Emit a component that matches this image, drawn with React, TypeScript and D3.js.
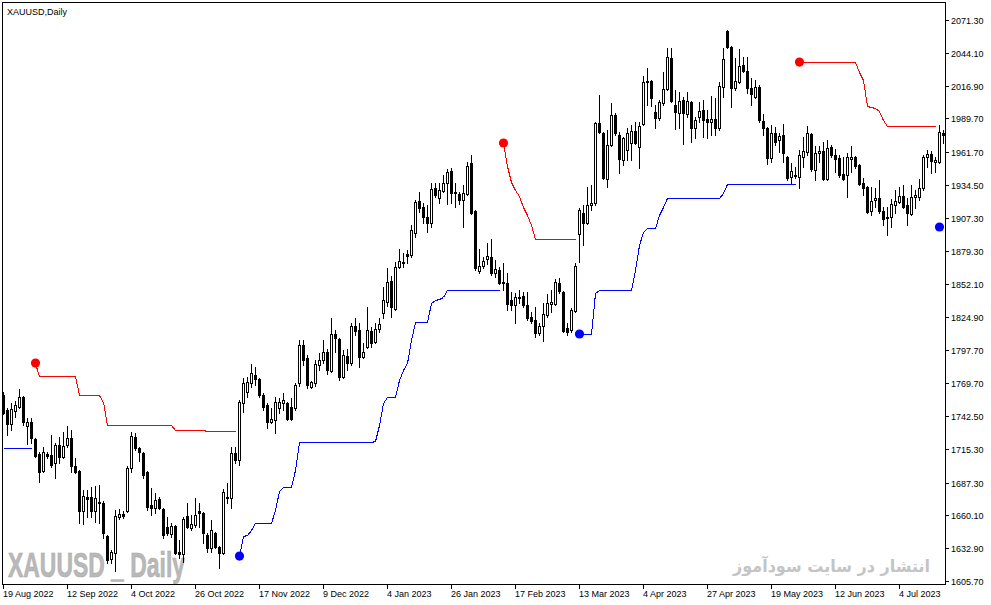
import React, { useEffect } from 'react';
import * as d3 from 'd3';

// ---- data ----
const START_DATE = '2022-08-19';
const HOLIDAYS = ['2022-12-26', '2023-01-02', '2023-04-07'];

// [open, high, low, close]
const candles: [number, number, number, number][] = [
  [1760.0, 1762.5, 1744.3, 1745.1], [1747.6, 1749.3, 1726.9, 1736.0], [1736.0, 1753.4, 1731.0, 1748.4], [1746.8, 1755.1, 1741.8, 1751.8],
  [1750.1, 1765.0, 1749.3, 1758.4], [1758.4, 1759.2, 1735.2, 1737.6], [1734.3, 1741.0, 1719.4, 1737.6], [1737.6, 1741.0, 1720.2, 1724.4],
  [1723.5, 1724.4, 1708.6, 1709.4], [1711.1, 1712.7, 1687.8, 1696.1], [1697.0, 1716.9, 1696.1, 1712.7], [1711.1, 1712.7, 1707.8, 1709.4],
  [1710.3, 1726.9, 1700.3, 1701.9], [1703.6, 1720.2, 1691.2, 1718.6], [1718.6, 1725.2, 1703.6, 1708.6], [1708.6, 1729.3, 1707.8, 1717.7],
  [1718.6, 1734.3, 1716.9, 1724.4], [1724.4, 1731.0, 1696.1, 1701.1], [1701.1, 1707.8, 1695.3, 1696.1], [1697.0, 1697.8, 1653.8, 1663.8],
  [1663.8, 1681.2, 1653.0, 1676.2], [1675.4, 1681.2, 1658.8, 1673.7], [1675.4, 1683.7, 1658.8, 1663.8], [1663.8, 1684.5, 1654.6, 1674.5],
  [1671.2, 1685.4, 1653.8, 1670.4], [1670.4, 1672.1, 1641.4, 1645.5], [1643.0, 1643.8, 1620.6, 1623.1], [1623.9, 1631.4, 1620.6, 1629.7],
  [1628.9, 1664.6, 1614.0, 1659.6], [1658.8, 1665.4, 1657.1, 1661.3], [1661.3, 1663.8, 1658.0, 1659.6], [1663.8, 1701.1, 1662.9, 1699.5],
  [1699.5, 1729.3, 1696.1, 1726.0], [1725.2, 1728.5, 1714.4, 1716.1], [1716.1, 1716.9, 1705.3, 1712.7], [1711.9, 1712.7, 1691.2, 1693.7],
  [1696.1, 1696.9, 1664.6, 1667.1], [1668.7, 1682.9, 1660.5, 1666.3], [1666.3, 1678.7, 1662.1, 1672.9], [1673.7, 1675.4, 1665.4, 1666.3],
  [1665.4, 1666.3, 1641.4, 1643.8], [1650.5, 1658.8, 1643.8, 1645.5], [1644.7, 1653.8, 1642.2, 1651.3], [1651.3, 1652.2, 1628.1, 1628.9],
  [1629.7, 1639.7, 1624.8, 1628.1], [1628.1, 1658.8, 1621.4, 1657.1], [1659.6, 1670.4, 1649.7, 1650.5], [1649.7, 1660.5, 1648.0, 1653.0],
  [1652.2, 1674.5, 1650.5, 1660.5], [1663.8, 1670.4, 1650.5, 1662.1], [1662.1, 1662.9, 1637.2, 1645.5], [1643.8, 1645.5, 1629.7, 1633.1],
  [1633.1, 1656.3, 1629.7, 1648.0], [1645.5, 1646.3, 1633.1, 1633.9], [1633.9, 1634.7, 1616.5, 1628.9], [1628.9, 1682.0, 1628.1, 1679.5],
  [1675.4, 1687.0, 1670.4, 1674.5], [1674.5, 1716.9, 1666.3, 1711.9], [1711.9, 1716.9, 1703.6, 1706.1], [1706.1, 1755.9, 1701.9, 1754.2],
  [1753.4, 1774.2, 1745.9, 1770.0], [1762.5, 1775.0, 1758.4, 1770.8], [1770.0, 1785.8, 1766.7, 1778.3], [1776.7, 1783.3, 1768.4, 1773.3],
  [1773.3, 1774.2, 1758.4, 1760.0], [1760.0, 1761.7, 1747.6, 1750.1], [1751.8, 1753.4, 1732.7, 1737.6], [1737.6, 1749.3, 1736.8, 1740.1],
  [1739.3, 1758.4, 1728.5, 1754.2], [1749.3, 1757.6, 1745.1, 1754.2], [1753.4, 1761.7, 1747.6, 1755.9], [1753.4, 1754.2, 1739.3, 1740.1],
  [1750.1, 1757.6, 1739.3, 1740.1], [1749.3, 1770.0, 1747.6, 1768.4], [1770.0, 1805.7, 1767.5, 1801.6], [1801.6, 1805.7, 1785.0, 1789.1],
  [1790.8, 1793.3, 1765.9, 1768.4], [1766.7, 1771.7, 1765.9, 1770.8], [1770.0, 1789.1, 1767.5, 1785.8], [1785.0, 1794.9, 1780.8, 1789.1],
  [1789.1, 1805.7, 1786.6, 1795.7], [1795.7, 1798.2, 1777.5, 1780.8], [1780.0, 1824.0, 1779.2, 1810.7], [1810.7, 1814.0, 1795.7, 1807.4],
  [1806.5, 1807.4, 1772.5, 1775.0], [1775.0, 1797.4, 1774.2, 1793.3], [1792.4, 1798.2, 1780.8, 1786.6], [1786.6, 1819.8, 1785.0, 1817.3],
  [1817.3, 1824.0, 1809.9, 1813.2], [1814.0, 1819.8, 1783.3, 1791.6], [1791.6, 1803.2, 1790.8, 1795.7], [1799.9, 1833.1, 1799.1, 1814.0],
  [1813.2, 1816.5, 1799.9, 1803.2], [1804.0, 1819.8, 1803.2, 1814.8], [1814.8, 1824.0, 1812.4, 1819.0], [1828.1, 1849.7, 1824.0, 1838.9],
  [1837.2, 1865.5, 1833.9, 1853.8], [1854.7, 1858.8, 1824.8, 1833.1], [1831.4, 1870.4, 1830.6, 1866.3], [1866.3, 1881.2, 1865.5, 1871.3],
  [1869.6, 1877.9, 1866.3, 1870.4], [1877.1, 1880.4, 1869.6, 1875.4], [1876.3, 1901.2, 1874.6, 1897.0], [1894.5, 1921.9, 1891.2, 1920.2],
  [1921.1, 1928.5, 1911.9, 1915.3], [1916.1, 1919.4, 1902.8, 1907.8], [1907.8, 1917.8, 1895.3, 1902.8], [1902.8, 1936.0, 1899.5, 1931.0],
  [1931.9, 1936.0, 1924.4, 1926.0], [1923.6, 1936.0, 1919.4, 1930.2], [1929.4, 1942.7, 1928.5, 1936.0], [1936.0, 1947.6, 1918.6, 1945.1],
  [1946.0, 1948.5, 1919.4, 1927.7], [1928.5, 1936.0, 1916.1, 1927.7], [1926.9, 1928.5, 1918.6, 1921.9], [1921.9, 1934.4, 1899.5, 1927.7],
  [1926.9, 1953.4, 1926.0, 1950.1], [1952.6, 1959.3, 1910.3, 1911.1], [1912.8, 1913.6, 1863.8, 1865.5], [1863.0, 1881.2, 1861.3, 1867.1],
  [1867.1, 1874.6, 1865.5, 1871.3], [1872.9, 1886.2, 1868.8, 1875.4], [1874.6, 1889.5, 1859.6, 1861.3], [1861.3, 1872.1, 1858.0, 1864.6],
  [1863.8, 1866.3, 1852.2, 1853.0], [1853.8, 1869.6, 1847.2, 1853.0], [1853.0, 1861.3, 1830.6, 1835.6], [1838.9, 1845.5, 1830.6, 1834.8],
  [1834.8, 1844.7, 1819.8, 1841.4], [1840.6, 1847.2, 1836.4, 1841.4], [1842.2, 1845.5, 1833.1, 1834.8], [1834.8, 1845.5, 1822.3, 1824.0],
  [1824.8, 1829.0, 1819.8, 1821.5], [1822.3, 1833.1, 1808.2, 1811.5], [1811.5, 1819.8, 1809.9, 1817.3], [1817.3, 1836.4, 1804.9, 1827.3],
  [1826.5, 1843.9, 1824.8, 1836.4], [1835.6, 1847.2, 1829.0, 1837.2], [1835.6, 1856.3, 1834.8, 1853.8], [1853.0, 1857.2, 1844.7, 1846.4],
  [1845.5, 1846.4, 1812.4, 1813.2], [1815.7, 1819.8, 1809.9, 1812.4], [1814.0, 1832.3, 1812.4, 1830.6], [1829.8, 1869.6, 1829.0, 1867.1],
  [1893.7, 1915.3, 1870.4, 1913.6], [1911.1, 1917.8, 1884.6, 1902.8], [1902.8, 1932.7, 1902.0, 1917.8], [1917.8, 1934.4, 1913.6, 1919.4],
  [1919.4, 1986.6, 1917.8, 1985.8], [1985.8, 2009.0, 1977.5, 1978.3], [1977.5, 1978.3, 1939.3, 1940.2], [1939.3, 1980.0, 1932.7, 1967.6],
  [1967.6, 2002.4, 1966.7, 1992.5], [1992.5, 1994.1, 1975.8, 1977.5], [1975.8, 1978.3, 1944.3, 1955.9], [1955.1, 1974.2, 1951.0, 1973.4],
  [1963.4, 1981.7, 1955.1, 1977.5], [1969.2, 1984.2, 1955.1, 1979.2], [1979.2, 1986.6, 1968.4, 1969.2], [1965.9, 1986.6, 1948.5, 1983.3],
  [1985.0, 2024.8, 1984.2, 2019.8], [2020.7, 2031.5, 2000.8, 2019.8], [2020.7, 2021.5, 1999.9, 2006.6], [1994.9, 2000.8, 1981.7, 1990.0],
  [1990.0, 2004.9, 1988.3, 2003.2], [2002.4, 2028.1, 2000.8, 2014.0], [2014.0, 2048.1, 2013.2, 2040.6], [2039.8, 2048.1, 2003.2, 2004.1],
  [2000.8, 2013.2, 1980.8, 1994.9], [1994.1, 2011.5, 1981.7, 2004.1], [2004.9, 2007.4, 1968.4, 1994.1], [1993.3, 2011.5, 1990.8, 2004.1],
  [2003.2, 2004.1, 1970.0, 1981.7], [1981.7, 1990.8, 1973.4, 1988.3], [1990.8, 2003.2, 1986.6, 1995.8], [1996.6, 2004.9, 1974.2, 1988.3],
  [1989.1, 1996.6, 1973.4, 1986.6], [1986.6, 2008.2, 1975.8, 1989.1], [1989.1, 2006.6, 1975.8, 1981.7], [1981.7, 2019.8, 1980.0, 2016.5],
  [2015.7, 2048.1, 2007.4, 2038.9], [2062.2, 2063.0, 2048.1, 2048.9], [2048.9, 2049.7, 1999.1, 2014.9], [2014.9, 2039.8, 2013.2, 2020.7],
  [2019.8, 2047.2, 2019.0, 2033.1], [2033.9, 2040.6, 2028.1, 2028.9], [2028.9, 2040.6, 2010.7, 2014.9], [2014.9, 2023.1, 2000.8, 2009.9],
  [2007.4, 2021.5, 2006.6, 2015.7], [2015.7, 2017.4, 1986.6, 1988.3], [1987.5, 1993.3, 1975.8, 1981.7], [1981.7, 1982.5, 1951.8, 1956.8],
  [1956.8, 1984.2, 1953.4, 1977.5], [1977.5, 1982.5, 1967.6, 1970.0], [1971.7, 1977.5, 1961.7, 1975.0], [1975.8, 1985.0, 1953.4, 1960.9],
  [1957.6, 1958.4, 1938.5, 1940.2], [1941.0, 1952.6, 1935.2, 1946.0], [1942.7, 1949.3, 1940.2, 1941.8], [1941.0, 1963.4, 1931.9, 1959.3],
  [1957.6, 1974.2, 1949.3, 1962.6], [1961.7, 1983.3, 1959.3, 1977.5], [1976.7, 1977.5, 1946.0, 1947.6], [1946.8, 1966.7, 1938.5, 1960.9],
  [1960.9, 1966.7, 1953.4, 1962.6], [1962.6, 1970.0, 1938.5, 1939.3], [1939.3, 1971.7, 1938.5, 1965.1], [1965.9, 1967.6, 1957.6, 1959.3],
  [1959.3, 1964.2, 1945.1, 1955.9], [1956.8, 1959.3, 1941.0, 1942.7], [1943.5, 1957.6, 1938.5, 1939.3], [1942.7, 1960.9, 1924.4, 1957.6],
  [1955.9, 1966.7, 1945.1, 1957.6], [1957.6, 1958.4, 1948.5, 1950.1], [1951.0, 1951.8, 1934.4, 1935.2], [1936.0, 1940.2, 1926.0, 1931.9],
  [1932.7, 1933.5, 1911.1, 1911.9], [1912.8, 1932.7, 1909.5, 1921.1], [1921.9, 1931.9, 1916.1, 1923.6], [1923.6, 1938.5, 1911.1, 1912.8],
  [1912.8, 1916.1, 1901.2, 1906.1], [1907.8, 1916.1, 1892.9, 1907.0], [1907.8, 1922.7, 1899.5, 1918.6], [1917.8, 1930.2, 1911.1, 1921.1],
  [1920.2, 1932.7, 1919.4, 1925.2], [1925.2, 1934.4, 1915.3, 1916.1], [1917.8, 1923.6, 1901.2, 1911.1], [1910.3, 1934.4, 1909.5, 1924.4],
  [1924.4, 1930.2, 1915.3, 1926.0], [1924.4, 1939.3, 1921.9, 1931.9], [1931.9, 1959.3, 1930.2, 1957.6], [1957.6, 1963.4, 1949.3, 1960.1],
  [1960.1, 1962.6, 1944.3, 1954.3], [1953.4, 1957.6, 1945.1, 1955.1], [1953.4, 1984.2, 1952.6, 1978.3], [1977.5, 1980.0, 1969.2, 1975.8],
];

// trend-stop indicator segments: first bar index + per-bar values
const upTrend1 = { from: 0, values: [1716.1, 1716.1, 1716.1, 1716.1, 1716.1, 1716.1, 1716.1, 1716.1] };
const downTrend1 = {
  from: 8,
  values: [1786.6, 1775.8, 1775.8, 1775.8, 1775.8, 1775.8, 1775.8, 1775.8, 1775.8, 1775.8, 1775.8,
    1760.0, 1760.0, 1760.0, 1760.0, 1760.0, 1760.0, 1754.2,
    1735.2, 1735.2, 1735.2, 1735.2, 1735.2, 1735.2, 1735.2, 1735.2, 1735.2, 1735.2, 1735.2, 1735.2, 1735.2, 1735.2, 1735.2, 1735.2, 1735.2,
    1731.0, 1731.0, 1731.0, 1731.0, 1731.0, 1731.0, 1731.0, 1731.0,
    1730.2, 1730.2, 1730.2, 1730.2, 1730.2, 1730.2, 1730.2, 1730.2],
};
const upTrend2 = {
  from: 59,
  values: [1626.4, 1643.0, 1643.8, 1648.0, 1653.8, 1653.8, 1653.8, 1653.8, 1653.8, 1664.6, 1680.4, 1683.7, 1683.7, 1683.7, 1697.8,
    1721.0, 1721.0, 1721.0, 1721.0, 1721.0, 1721.0, 1721.0, 1721.0, 1721.0, 1721.0, 1721.0, 1721.0, 1721.0, 1721.0, 1721.0, 1721.0, 1721.0, 1721.0, 1721.0,
    1721.9, 1735.2, 1753.4, 1758.4, 1758.4, 1758.4, 1772.5, 1780.8, 1786.6, 1805.7, 1820.7, 1820.7, 1820.7, 1820.7,
    1836.4, 1838.9, 1839.7, 1841.4,
    1847.2, 1847.2, 1847.2, 1847.2, 1847.2, 1847.2, 1847.2, 1847.2, 1847.2, 1847.2, 1847.2, 1847.2, 1847.2, 1847.2],
};
const downTrend2 = {
  from: 125,
  values: [1969.2, 1950.1, 1936.9, 1930.2, 1925.2, 1916.1, 1909.5, 1901.2,
    1889.5, 1889.5, 1889.5, 1889.5, 1889.5, 1889.5, 1889.5, 1889.5, 1889.5, 1889.5, 1889.5],
};
const upTrend3 = {
  from: 144,
  values: [1810.7, 1810.7, 1810.7, 1810.7, 1844.7,
    1847.2, 1847.2, 1847.2, 1847.2, 1847.2, 1847.2, 1847.2, 1847.2, 1847.2,
    1863.8, 1884.6, 1895.3, 1898.7, 1898.7, 1898.7, 1909.5, 1916.1,
    1923.6, 1923.6, 1923.6, 1923.6, 1923.6, 1923.6, 1923.6, 1923.6, 1923.6, 1923.6, 1923.6, 1923.6, 1923.6, 1923.6,
    1927.7, 1935.1,
    1935.2, 1935.2, 1935.2, 1935.2, 1935.2, 1935.2, 1935.2, 1935.2, 1935.2, 1935.2, 1935.2, 1935.2, 1935.2, 1935.2, 1935.2, 1935.2, 1935.2],
};
const downTrend3 = {
  from: 199,
  values: [2036.4, 2036.4, 2036.4, 2036.4, 2036.4, 2036.4, 2036.4, 2036.4, 2036.4, 2036.4, 2036.4, 2036.4, 2036.4, 2036.4, 2036.4,
    2028.1, 2021.5, 1999.9, 1999.1, 1998.3, 1995.8, 1988.3,
    1983.3, 1983.3, 1983.3, 1983.3, 1983.3, 1983.3, 1983.3, 1983.3, 1983.3, 1983.3, 1983.3, 1983.3, 1983.3],
};
const upTrend4 = { from: 234, values: [1899.5, 1899.5] };

const priceTicks = ['2071.30', '2044.10', '2016.90', '1989.70', '1961.70', '1934.50', '1907.30', '1879.30', '1852.10',
  '1824.90', '1797.70', '1769.70', '1742.50', '1715.30', '1687.30', '1660.10', '1632.90', '1605.70'];
const dateTicks = ['19 Aug 2022', '12 Sep 2022', '4 Oct 2022', '26 Oct 2022', '17 Nov 2022', '9 Dec 2022', '4 Jan 2023',
  '26 Jan 2023', '17 Feb 2023', '13 Mar 2023', '4 Apr 2023', '27 Apr 2023', '19 May 2023', '12 Jun 2023', '4 Jul 2023'];

const TITLE = 'XAUUSD,Daily';
const WATERMARK_EN = 'XAUUSD _ Daily';
const WATERMARK_FA = 'انتشار در سایت سودآموز';

// ---- layout ----
const W = 991;
const H = 605;
const FRAME = { left: 2.5, top: 2.5, right: 945.5, bottom: 584.5 };
const FONT = "'Liberation Sans', Arial, sans-serif";
const UP_COLOR = '#0000ff';
const DOWN_COLOR = '#ff0000';

function tradingDays(start: string, count: number, holidays: string[]): Date[] {
  const out: Date[] = [];
  const hol = new Set(holidays);
  const key = d3.timeFormat('%Y-%m-%d');
  let d = d3.timeParse('%Y-%m-%d')(start) as Date;
  while (out.length < count) {
    const wd = d.getDay();
    if (wd !== 0 && wd !== 6 && !hol.has(key(d))) out.push(d);
    d = d3.timeDay.offset(d, 1);
  }
  return out;
}

export default function App() {
  useEffect(() => {
    document.body.style.margin = '0';
  }, []);

  const n = candles.length;
  const x = d3.scaleLinear().domain([0, n - 1]).range([3.5, 3.5 + 4 * (n - 1)]);
  const y = d3.scaleLinear().domain([1605.7, 2071.3]).range([581, 20]);
  const dates = tradingDays(START_DATE, n, HOLIDAYS);
  const fmt = d3.timeFormat('%-d %b %Y');

  const segs = [
    { s: upTrend1, color: UP_COLOR, dot: false },
    { s: downTrend1, color: DOWN_COLOR, dot: true },
    { s: upTrend2, color: UP_COLOR, dot: true },
    { s: downTrend2, color: DOWN_COLOR, dot: true },
    { s: upTrend3, color: UP_COLOR, dot: true },
    { s: downTrend3, color: DOWN_COLOR, dot: true },
    { s: upTrend4, color: UP_COLOR, dot: true },
  ];
  const line = d3.line<[number, number]>().x((d) => x(d[0])).y((d) => Math.round(y(d[1])) + 0.5);

  return (
    <svg width={W} height={H} style={{ position: 'absolute', left: 0, top: 0, background: '#fff' }}
      xmlns="http://www.w3.org/2000/svg">
      <rect x={0} y={0} width={W} height={H} fill="#fff" />

      {/* watermarks */}
      <text x={8} y={577} fontFamily={FONT} fontWeight="bold" fontSize={35} fill="#b9b9b9"
        stroke="#a8a8a8" strokeWidth={0.6} textLength={177} lengthAdjust="spacingAndGlyphs">{WATERMARK_EN}</text>
      <text x={733} y={572} fontFamily="'DejaVu Sans', sans-serif" fontWeight="bold" fontSize={17} fill="#c4c4c4"
        textLength={197} lengthAdjust="spacingAndGlyphs">{WATERMARK_FA}</text>

      {/* candles */}
      <g>
        {candles.map(([o, h, l, c], i) => {
          const cx = x(i);
          const top = Math.round(y(Math.max(o, c)));
          const bot = Math.round(y(Math.min(o, c)));
          const up = c >= o;
          return (
            <g key={i}>
              <line x1={cx} x2={cx} y1={Math.round(y(h))} y2={Math.round(y(l)) + 1} stroke="#000" strokeWidth={1} />
              {up ? (
                <rect x={cx - 1} y={top + 0.5} width={2} height={Math.max(1, bot - top)} fill="#fff" stroke="#000" strokeWidth={1} />
              ) : (
                <rect x={cx - 1.5} y={top} width={3} height={Math.max(1, bot - top + 1)} fill="#000" />
              )}
            </g>
          );
        })}
      </g>

      {/* indicator */}
      {segs.map(({ s, color }, k) => (
        <path key={'l' + k} d={line(s.values.map((v, j) => [s.from + j, v] as [number, number])) || ''}
          fill="none" stroke={color} strokeWidth={1} shapeRendering="crispEdges" />
      ))}
      {segs.filter((g) => g.dot).map(({ s, color }, k) => (
        <circle key={'d' + k} cx={x(s.from)} cy={y(s.values[0])} r={4.6} fill={color} />
      ))}

      {/* frame */}
      <path d={`M${FRAME.left},${FRAME.bottom}V${FRAME.top}H${FRAME.right}V${FRAME.bottom}H${FRAME.left}`}
        fill="none" stroke="#000" strokeWidth={1} shapeRendering="crispEdges" />

      {/* title */}
      <text x={7} y={15} fontFamily={FONT} fontSize={9} fill="#000">{TITLE}</text>

      {/* price axis */}
      {priceTicks.map((t) => {
        const ty = Math.round(y(+t)) + 0.5;
        return (
          <g key={t}>
            <line x1={FRAME.right} x2={FRAME.right + 3} y1={ty} y2={ty} stroke="#000" shapeRendering="crispEdges" />
            <text x={951} y={ty + 3.5} fontFamily={FONT} fontSize={9} fill="#000">{t}</text>
          </g>
        );
      })}

      {/* time axis */}
      {dateTicks.map((t) => {
        const idx = dates.findIndex((d) => fmt(d) === t);
        if (idx < 0) return null;
        const tx = x(idx);
        return (
          <g key={t}>
            <line x1={tx} x2={tx} y1={FRAME.bottom} y2={FRAME.bottom + 4} stroke="#000" shapeRendering="crispEdges" />
            <text x={tx - 0.5} y={597} fontFamily={FONT} fontSize={9} fill="#000">{t}</text>
          </g>
        );
      })}
    </svg>
  );
}
